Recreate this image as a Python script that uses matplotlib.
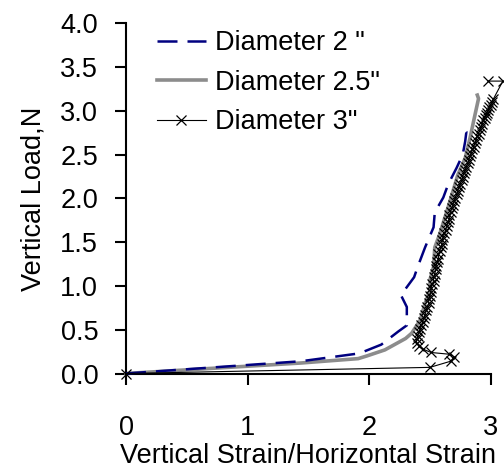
import matplotlib
matplotlib.use("Agg")
import matplotlib.pyplot as plt
from matplotlib.ticker import FormatStrFormatter

plt.rcParams["font.family"] = ["Liberation Sans", "DejaVu Sans"]

# Diameter 2"
d2_x = [0.0, 1.44, 1.92, 2.10, 2.24, 2.31, 2.31, 2.26, 2.28, 2.37, 2.40, 2.46,
        2.53, 2.54, 2.61, 2.65, 2.72, 2.77, 2.79, 2.80, 2.77]
d2_y = [0.0, 0.14, 0.23, 0.33, 0.48, 0.55, 0.76, 0.90, 0.93, 1.10, 1.22, 1.44,
        1.67, 1.84, 2.01, 2.16, 2.35, 2.50, 2.65, 2.76, 2.79]

# Diameter 2.5"
d25_x = [0.0, 1.44, 1.91, 1.98, 2.13, 2.30, 2.35, 2.42, 2.46, 2.50, 2.50, 2.53,
         2.54, 2.58, 2.65, 2.73, 2.79, 2.83, 2.87, 2.90, 2.89]
d25_y = [0.0, 0.12, 0.17, 0.20, 0.27, 0.40, 0.46, 0.61, 0.80, 0.95, 1.07, 1.22,
         1.44, 1.59, 1.90, 2.27, 2.46, 2.69, 2.95, 3.14, 3.18]

# Diameter 3"
d3_x = [0.0, 2.50, 2.67, 2.70, 2.66, 2.51, 2.44, 2.41, 2.39, 2.39, 2.40, 2.41,
        2.42, 2.43, 2.44, 2.45, 2.46, 2.47, 2.48, 2.49, 2.49, 2.50, 2.51, 2.51,
        2.52, 2.53, 2.53, 2.54, 2.55, 2.55, 2.56, 2.57, 2.57, 2.58, 2.59, 2.60,
        2.60, 2.61, 2.62, 2.63, 2.64, 2.65, 2.66, 2.66, 2.67, 2.68, 2.69, 2.70,
        2.71, 2.72, 2.73, 2.74, 2.75, 2.76, 2.77, 2.78, 2.79, 2.80, 2.81, 2.82,
        2.83, 2.84, 2.85, 2.86, 2.87, 2.88, 2.89, 2.90, 2.91, 2.92, 2.93, 2.94,
        2.95, 2.96, 2.97, 2.98, 2.99, 3.00, 3.01, 3.02, 3.10, 2.98]
d3_y = [0.0, 0.07, 0.14, 0.19, 0.22, 0.24, 0.28, 0.31, 0.35, 0.39, 0.43, 0.47,
        0.51, 0.55, 0.59, 0.63, 0.67, 0.72, 0.76, 0.80, 0.85, 0.89, 0.93, 0.98,
        1.02, 1.06, 1.10, 1.14, 1.19, 1.23, 1.27, 1.31, 1.36, 1.40, 1.44, 1.48,
        1.52, 1.56, 1.60, 1.64, 1.69, 1.73, 1.77, 1.81, 1.85, 1.89, 1.93, 1.97,
        2.01, 2.05, 2.09, 2.13, 2.17, 2.21, 2.25, 2.29, 2.33, 2.36, 2.40, 2.44,
        2.48, 2.52, 2.56, 2.59, 2.63, 2.67, 2.71, 2.74, 2.78, 2.82, 2.85, 2.89,
        2.92, 2.95, 2.98, 3.01, 3.04, 3.07, 3.10, 3.13, 3.34, 3.34]

x_ticks = [0, 1, 2, 3]
y_ticks = [0.0, 0.5, 1.0, 1.5, 2.0, 2.5, 3.0, 3.5, 4.0]


def main():
    fig = plt.figure(figsize=(5.04, 4.71), dpi=100)
    ax = fig.add_axes([0.25, 0.207, 0.7236, 0.7435])

    ax.plot(d2_x, d2_y, color="#000080", lw=1.8, dashes=(8, 4),
            label='Diameter 2 "', clip_on=False, zorder=3)
    ax.plot(d25_x, d25_y, color="#8c8c8c", lw=2.6,
            label='Diameter 2.5"', clip_on=False, zorder=2)
    ax.plot(d3_x, d3_y, color="black", lw=0.8, marker="x", ms=7, mew=0.9,
            label='Diameter 3"', clip_on=False, zorder=4)

    ax.set_xlim(0, 3)
    ax.set_ylim(0, 4)
    ax.set_xticks(x_ticks)
    ax.set_yticks(y_ticks)
    ax.yaxis.set_major_formatter(FormatStrFormatter("%.1f"))

    for side in ("top", "right"):
        ax.spines[side].set_visible(False)
    for side in ("left", "bottom"):
        ax.spines[side].set_linewidth(1.5)

    ax.tick_params(axis="both", direction="out", length=8, width=1.5,
                   labelsize=19.5)
    ax.tick_params(axis="x", pad=22)
    ax.tick_params(axis="y", pad=12)

    ax.set_xlabel("Vertical Strain/Horizontal Strain", fontsize=19.5, labelpad=1)
    ax.set_ylabel("Vertical Load,N", fontsize=19.5, labelpad=10)

    ax.legend(loc="upper left", bbox_to_anchor=(0.085, 0.98), frameon=False,
              fontsize=19.5, handlelength=1.8, handletextpad=0.35,
              labelspacing=0.5, borderaxespad=0.0, borderpad=0.0)

    fig.savefig("out.png", dpi=100)


if __name__ == "__main__":
    main()
